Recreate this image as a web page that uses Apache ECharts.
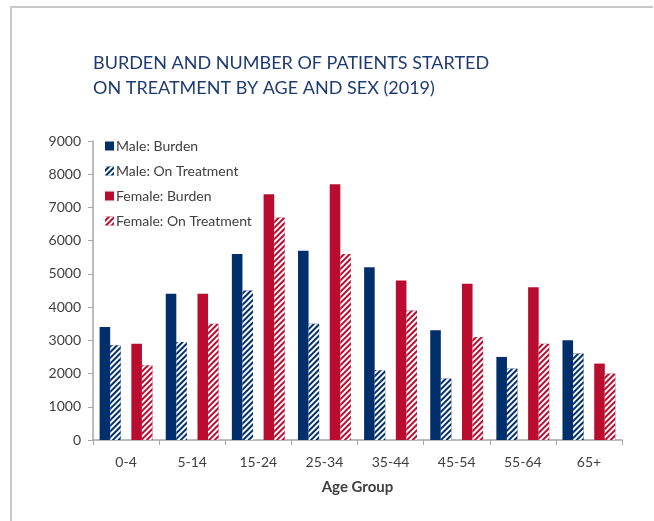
<!DOCTYPE html>
<html>
<head>
<meta charset="utf-8">
<script src="https://cdn.jsdelivr.net/npm/echarts@6/dist/echarts.min.js"></script>
<style>
  html, body { margin: 0; padding: 0; background: #fff; }
  #chart { width: 654px; height: 521px; }
</style>
</head>
<body>
<div id="chart"></div>
<script>
const ageGroups = ["0-4", "5-14", "15-24", "25-34", "35-44", "45-54", "55-64", "65+"];
const maleBurden = [3400, 4400, 5600, 5700, 5200, 3300, 2500, 3000];
const maleTreatment = [2850, 2950, 4500, 3500, 2100, 1850, 2150, 2600];
const femaleBurden = [2900, 4400, 7400, 7700, 4800, 4700, 4600, 2300];
const femaleTreatment = [2250, 3500, 6700, 5600, 3900, 3100, 2900, 2000];
const yTicks = [0, 1000, 2000, 3000, 4000, 5000, 6000, 7000, 8000, 9000];

const navy = "#002F6C";
const red = "#BA0C2F";
const font = "Lato";

// white "/" stripes for the on-treatment bars
const hatch = {
  symbol: "rect",
  symbolSize: 1,
  color: "#ffffff",
  dashArrayX: [1, 0],
  dashArrayY: [2, 2],
  rotation: -Math.PI / 4,
};

const chart = echarts.init(document.getElementById("chart"));

chart.setOption({
  animation: false,
  textStyle: { fontFamily: font },
  title: {
    text: "BURDEN AND NUMBER OF PATIENTS STARTED\nON TREATMENT BY AGE AND SEX (2019)",
    left: 88,
    top: 46,
    textStyle: {
      fontFamily: font,
      fontSize: 18,
      fontWeight: "normal",
      color: "#1F3B73",
      lineHeight: 25,
    },
  },
  graphic: [
    {
      type: "polyline",
      shape: { points: [[11, 521], [11, 7], [653, 7]] },
      style: { stroke: "#c8c8c8", lineWidth: 2, fill: null },
    },
  ],
  legend: {
    orient: "vertical",
    left: 100,
    top: 134,
    icon: "rect",
    itemWidth: 9,
    itemHeight: 9,
    itemGap: 11,
    data: ["Male: Burden", "Male: On Treatment", "Female: Burden", "Female: On Treatment"],
    textStyle: { fontFamily: font, fontSize: 14, color: "#404040", padding: [0, 0, 0, -3] },
  },
  grid: { left: 93, right: 32, top: 141, bottom: 81, containLabel: false },
  xAxis: {
    type: "category",
    data: ageGroups,
    name: "Age Group",
    nameLocation: "middle",
    nameGap: 40,
    nameTextStyle: { fontFamily: font, fontSize: 15, fontWeight: "bold", color: "#404040" },
    axisLine: { lineStyle: { color: "#a6a6a6", width: 1.5 } },
    axisTick: { show: true, length: 5, lineStyle: { color: "#a6a6a6" } },
    axisLabel: { fontFamily: font, fontSize: 14, color: "#404040", margin: 15 },
  },
  yAxis: {
    type: "value",
    min: yTicks[0],
    max: yTicks[yTicks.length - 1],
    interval: 1000,
    axisLine: { show: true, lineStyle: { color: "#a6a6a6", width: 1.5 } },
    axisTick: { show: true, length: 5, lineStyle: { color: "#a6a6a6" } },
    splitLine: { show: false },
    axisLabel: {
      fontFamily: font,
      fontSize: 14,
      color: "#404040",
      margin: 12,
      formatter: (v) => String(v),
    },
  },
  series: [
    {
      name: "Male: Burden",
      type: "bar",
      data: maleBurden,
      barGap: "0%",
      barCategoryGap: "20%",
      itemStyle: { color: navy },
    },
    {
      name: "Male: On Treatment",
      type: "bar",
      data: maleTreatment,
      itemStyle: { color: navy, decal: hatch },
    },
    {
      name: "gap",
      type: "bar",
      data: ageGroups.map(() => null),
    },
    {
      name: "Female: Burden",
      type: "bar",
      data: femaleBurden,
      itemStyle: { color: red },
    },
    {
      name: "Female: On Treatment",
      type: "bar",
      data: femaleTreatment,
      itemStyle: { color: red, decal: hatch },
    },
  ],
});
</script>
</body>
</html>
